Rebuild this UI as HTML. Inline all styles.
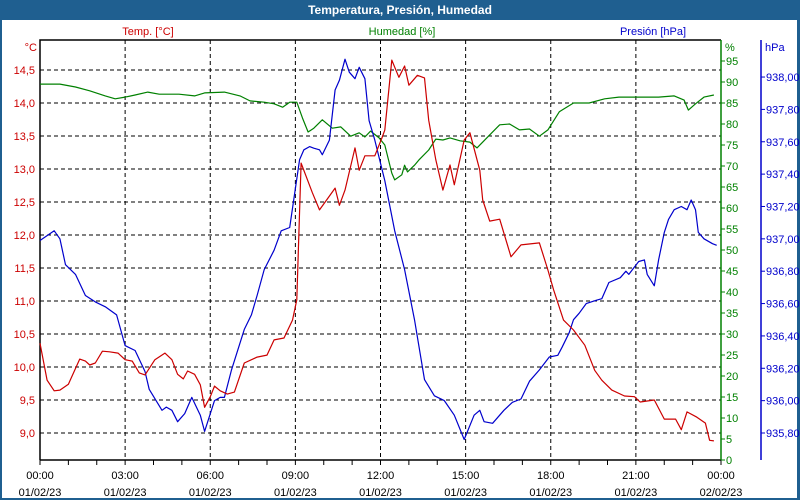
<!DOCTYPE html>
<html><head><meta charset="utf-8"><style>
html,body{margin:0;padding:0;background:#fff;}
#wrap{position:relative;width:800px;height:500px;overflow:hidden;font-family:"Liberation Sans",sans-serif;}
svg text{font-family:"Liberation Sans",sans-serif;font-size:11px;}
</style></head><body>
<div id="wrap">
<svg id="chart" width="800" height="500" xmlns="http://www.w3.org/2000/svg">
<rect x="0" y="0" width="800" height="500" fill="#1f5f90"/>
<rect x="2" y="20" width="795" height="478" fill="#fff"/>
<text x="400" y="14" text-anchor="middle" fill="#fff" font-weight="bold" style="font-size:12px">Temperatura, Presión, Humedad</text>
<text x="148" y="35" text-anchor="middle" fill="#cc0000">Temp. [°C]</text>
<text x="402" y="35" text-anchor="middle" fill="#008000">Humedad [%]</text>
<text x="653" y="35" text-anchor="middle" fill="#0000cc">Presión [hPa]</text>
<text x="37" y="51" text-anchor="end" fill="#cc0000">°C</text>
<text x="725" y="51" fill="#008000">%</text>
<text x="765" y="51" fill="#0000cc">hPa</text>
<g id="grid"></g>
<g id="axes"></g>
<g id="series"></g>
</svg>
</div>
<script>
const xTickLabels = ["00:00","03:00","06:00","09:00","12:00","15:00","18:00","21:00","00:00"];
const xDateLabels = ["01/02/23","01/02/23","01/02/23","01/02/23","01/02/23","01/02/23","01/02/23","01/02/23","02/02/23"];
const tempTicks = [9.0,9.5,10.0,10.5,11.0,11.5,12.0,12.5,13.0,13.5,14.0,14.5];
const humTicks = [0,5,10,15,20,25,30,35,40,45,50,55,60,65,70,75,80,85,90,95];
const presTicks = [935.8,936.0,936.2,936.4,936.6,936.8,937.0,937.2,937.4,937.6,937.8,938.0];

const tempHours = [0,0.25,0.5,0.7,1.0,1.4,1.6,1.75,1.95,2.2,2.45,2.75,3.0,3.25,3.5,3.7,4.05,4.4,4.65,4.85,5.05,5.2,5.45,5.65,5.8,6.0,6.15,6.35,6.6,6.85,7.2,7.65,8.0,8.25,8.6,8.9,9.05,9.2,9.6,9.85,10.1,10.4,10.55,10.75,11.1,11.25,11.45,11.8,12.05,12.15,12.4,12.65,12.85,13.0,13.3,13.55,13.7,13.95,14.2,14.45,14.6,14.95,15.15,15.5,15.6,15.85,16.2,16.6,16.95,17.6,17.9,18.1,18.45,18.8,19.2,19.55,19.8,20.15,20.6,20.95,21.15,21.65,22.0,22.4,22.6,22.8,23.15,23.45,23.6,23.75];
const tempValues = [10.36,9.80,9.64,9.65,9.74,10.12,10.09,10.03,10.06,10.24,10.23,10.21,10.11,10.09,9.91,9.88,10.11,10.21,10.11,9.89,9.82,9.94,9.89,9.73,9.39,9.55,9.71,9.64,9.59,9.62,10.06,10.15,10.18,10.41,10.44,10.71,11.02,13.09,12.64,12.38,12.53,12.71,12.45,12.68,13.32,12.98,13.2,13.2,13.47,13.59,14.65,14.39,14.56,14.27,14.42,14.38,13.74,13.14,12.68,13.06,12.76,13.44,13.55,12.98,12.53,12.21,12.24,11.67,11.85,11.88,11.47,11.17,10.71,10.56,10.33,9.95,9.80,9.65,9.56,9.55,9.47,9.50,9.21,9.21,9.05,9.32,9.24,9.15,8.89,8.88];

const humHours = [0,0.7,1.25,1.75,2.3,2.65,3.0,3.35,3.8,4.2,4.9,5.45,5.8,6.5,7.05,7.4,7.9,8.25,8.55,8.8,9.05,9.25,9.45,9.65,9.95,10.3,10.6,10.95,11.25,11.45,11.65,11.95,12.15,12.4,12.5,12.75,12.85,12.95,13.2,13.35,13.7,13.95,14.2,14.45,14.8,15.15,15.4,15.85,16.2,16.55,16.9,17.25,17.6,17.9,18.3,18.8,19.35,19.9,20.4,21.1,21.8,22.35,22.7,22.85,23.1,23.4,23.75];
const humValues = [89.5,89.5,88.8,87.9,86.7,86.0,86.4,86.9,87.6,87.1,87.1,86.7,87.4,87.6,86.7,85.5,85.2,84.8,84.0,85.2,85.2,81.4,78.1,79.0,81.0,79.0,79.3,77.1,77.9,76.9,78.3,76.7,75.0,68.3,66.7,67.9,70.2,68.6,70.2,71.4,73.8,76.4,76.2,76.7,76.0,75.7,74.3,77.4,79.8,80.0,78.6,78.8,77.1,78.6,82.9,85.0,85.0,86.0,86.4,86.4,86.4,86.7,85.7,83.3,84.8,86.4,86.9];

const presHours = [0,0.25,0.5,0.7,0.9,1.25,1.6,1.95,2.3,2.7,3.0,3.35,3.7,3.85,4.3,4.45,4.65,4.85,5.1,5.35,5.65,5.8,6.15,6.35,6.5,6.75,7.2,7.45,7.65,7.9,8.25,8.5,8.8,9.15,9.3,9.5,9.65,9.85,9.95,10.2,10.4,10.55,10.75,10.9,11.1,11.25,11.45,11.6,11.8,12.15,12.5,12.85,13.2,13.55,13.9,14.25,14.6,14.95,15.3,15.5,15.65,15.95,16.35,16.65,16.95,17.25,17.6,17.95,18.25,18.4,18.65,18.8,19.0,19.25,19.6,19.8,20.05,20.45,20.65,20.75,21.1,21.3,21.4,21.65,21.8,22.0,22.15,22.35,22.6,22.8,22.95,23.1,23.2,23.4,23.7,23.85];
const presValues = [936.99,937.02,937.05,937.0,936.84,936.78,936.65,936.61,936.58,936.53,936.34,936.31,936.18,936.07,935.94,935.96,935.94,935.87,935.92,936.02,935.91,935.81,936.0,936.02,936.02,936.19,936.44,936.53,936.65,936.81,936.93,937.05,937.07,937.49,937.55,937.57,937.56,937.55,937.52,937.61,937.92,937.98,938.11,938.03,937.99,938.06,937.99,937.73,937.61,937.36,937.05,936.81,936.5,936.13,936.03,936.0,935.91,935.76,935.91,935.94,935.87,935.86,935.94,935.99,936.01,936.12,936.19,936.27,936.28,936.33,936.42,936.5,936.54,936.6,936.62,936.63,936.73,936.76,936.8,936.78,936.86,936.87,936.78,936.71,936.87,937.04,937.12,937.18,937.2,937.18,937.24,937.18,937.04,937.0,936.97,936.96];

const NS = "http://www.w3.org/2000/svg";
const L = 40, R = 721, T = 40, B = 460;
function xScale(h){ return L + h * (R - L) / 24; }
function yTemp(t){ return 433 - (t - 9) * 66; }
function yHum(v){ return 460 - v * 4.2; }
function yPres(p){ return 433 - (p - 935.8) * 161.8; }
function mk(tag, attrs, parent){ const e = document.createElementNS(NS, tag); for (const k in attrs) e.setAttribute(k, attrs[k]); parent.appendChild(e); return e; }

const grid = document.getElementById('grid');
const axes = document.getElementById('axes');
const series = document.getElementById('series');

// horizontal grid at temp ticks
tempTicks.forEach((t) => {
  const y = yTemp(t);
  const ln = mk('line', {x1:L, x2:R, y1:y, y2:y, stroke:'#000', 'stroke-dasharray':'4,3', 'stroke-width':1}, grid);
  
  
  const tk = mk('text', {x:35, y:y+4, 'text-anchor':'end', fill:'#cc0000'}, axes);
  tk.textContent = t.toFixed(1).replace('.', ',');
  
  
});
// vertical grid every 3h
xTickLabels.forEach((lab, i) => {
  const x = xScale(i * 3);
  if (i > 0 && i < 8) {
    const ln = mk('line', {x1:x, x2:x, y1:T, y2:B, stroke:'#000', 'stroke-dasharray':'4,3', 'stroke-width':1}, grid);
    
    
  }
  const t1 = mk('text', {x:x, y:479, 'text-anchor':'middle', fill:'#000'}, axes);
  t1.textContent = lab;
  
  
  const t2 = mk('text', {x:x, y:496, 'text-anchor':'middle', fill:'#000'}, axes);
  t2.textContent = xDateLabels[i];
  
  
});
for (let h = 0; h <= 24; h++) {
  const x = xScale(h);
  const tk = mk('line', {x1:x, x2:x, y1:B, y2:B+5, stroke:'#000'}, axes);
  
  
}
// plot border
const bl = mk('polyline', {points:`${L},${B} ${L},${T} ${R},${T}`, fill:'none', stroke:'#000', 'stroke-width':1.5}, axes);


const bb = mk('line', {x1:L, x2:R, y1:B, y2:B, stroke:'#000', 'stroke-width':1.5}, axes);


const ga = mk('line', {x1:R, x2:R, y1:T, y2:B, stroke:'#008000', 'stroke-width':1.5}, axes);


const pa = mk('line', {x1:761, x2:761, y1:T, y2:B, stroke:'#0000cc', 'stroke-width':1.5}, axes);


humTicks.forEach((v) => {
  const y = yHum(v);
  const tk = mk('line', {x1:R, x2:R+4, y1:y, y2:y, stroke:'#008000'}, axes);
  
  
  const tx = mk('text', {x:R+5, y:y+4, fill:'#008000'}, axes);
  tx.textContent = v;
  
  
});
presTicks.forEach((p) => {
  const y = yPres(p);
  const tk = mk('line', {x1:761, x2:765, y1:y, y2:y, stroke:'#0000cc'}, axes);
  
  
  const tx = mk('text', {x:766, y:y+4, fill:'#0000cc'}, axes);
  tx.textContent = p.toFixed(2).replace('.', ',');
  
  
});
function line(hours, vals, yf, color, name){
  const pts = hours.map((h, i) => xScale(h).toFixed(1) + ',' + yf(vals[i]).toFixed(1)).join(' ');
  const pl = mk('polyline', {points:pts, fill:'none', stroke:color, 'stroke-width':1.2, 'stroke-linejoin':'round'}, series);
  
  
}
line(humHours, humValues, yHum, '#008000', 'humidity-line');
line(presHours, presValues, yPres, '#0000cc', 'pressure-line');
line(tempHours, tempValues, yTemp, '#cc0000', 'temperature-line');
</script>
</body></html>
